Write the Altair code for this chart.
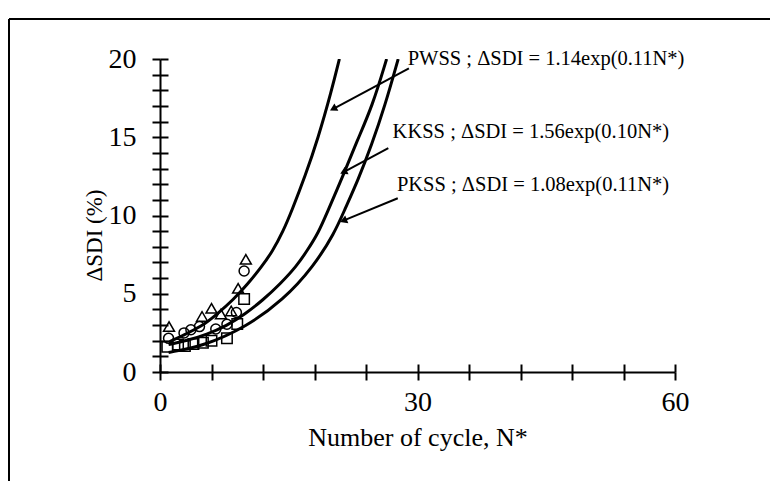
import altair as alt
import pandas as pd

# ---- curves (N*, ΔSDI %) ----
pwss_N = [1, 2.5, 4.85, 6.65, 8.5, 10.2, 11.8, 13.1, 14.35, 15.35, 16.9, 18.4, 20.0, 20.9]
pwss_y = [1.9, 2.3, 2.9, 3.7, 4.6, 5.6, 6.7, 7.7, 9.0, 10.3, 12.5, 14.9, 18.0, 20.0]
kkss_N = [1, 3.1, 5.45, 7.75, 9.9, 12.0, 13.95, 15.9, 17.2, 18.45, 19.4, 21.3, 22.9, 24.75, 26.4]
kkss_y = [1.75, 2.0, 2.4, 2.95, 3.7, 4.6, 5.6, 6.75, 7.8, 8.9, 10.1, 12.5, 14.7, 17.0, 20.0]
pkss_N = [1, 5.05, 10.1, 14.35, 17.85, 20.35, 21.5, 23.1, 24.65, 26.2, 27.75]
pkss_y = [1.25, 1.65, 2.9, 4.6, 6.7, 8.9, 10.35, 12.3, 14.5, 17.0, 20.0]

# ---- measured points ----
tri_N = [1.05, 4.9, 6.0, 7.1, 8.3, 9.1, 10.0]
tri_y = [2.9, 3.55, 4.07, 3.7, 3.9, 5.35, 7.2]
circ_N = [1.0, 2.8, 3.6, 4.6, 6.5, 7.8, 8.9, 9.8]
circ_y = [2.15, 2.5, 2.7, 2.9, 2.75, 3.05, 3.8, 6.45]
sq_N = [0.85, 2.1, 2.9, 3.9, 5.0, 6.0, 7.8, 9.0, 9.8]
sq_y = [1.62, 1.75, 1.66, 1.79, 1.87, 2.0, 2.15, 3.07, 4.66]

# ---- annotations ----
ann_text = ["PWSS ; \u0394SDI = 1.14exp(0.11N*)",
            "KKSS ; \u0394SDI = 1.56exp(0.10N*)",
            "PKSS ; \u0394SDI = 1.08exp(0.11N*)"]
ann_N = [28.85, 27.1, 27.6]
ann_y = [20.0, 15.35, 11.95]
arr_N0 = [29.0, 26.6, 27.7]
arr_y0 = [19.4, 14.3, 11.1]
arr_N1 = [20.3, 21.5, 21.5]
arr_y1 = [16.85, 12.8, 9.7]
arr_ang = [242, 243, 248]

x_ticks = [0, 6, 12, 18, 24, 30, 36, 42, 48, 54, 60]
y_ticks = list(range(0, 21))

W, H = 515, 313
FONT = "Liberation Serif"

curves = pd.DataFrame(
    [{"s": "PWSS", "N": n, "y": v} for n, v in zip(pwss_N, pwss_y)]
    + [{"s": "KKSS", "N": n, "y": v} for n, v in zip(kkss_N, kkss_y)]
    + [{"s": "PKSS", "N": n, "y": v} for n, v in zip(pkss_N, pkss_y)]
)
tri = pd.DataFrame({"N": tri_N, "y": tri_y})
circ = pd.DataFrame({"N": circ_N, "y": circ_y})
sq = pd.DataFrame({"N": sq_N, "y": sq_y})
ann = pd.DataFrame({"t": ann_text, "N": ann_N, "y": ann_y})
arr = pd.DataFrame({"N0": arr_N0, "y0": arr_y0, "N1": arr_N1, "y1": arr_y1, "a": arr_ang})

xs = alt.Scale(domain=[0, 60], nice=False, zero=False)
ys = alt.Scale(domain=[0, 20], nice=False, zero=False)

ax_common = dict(
    domainColor="black", domainWidth=2, tickColor="black", tickWidth=2, tickSize=8,
    labelFont=FONT, labelFontSize=28, labelColor="black", grid=False,
    titleFont=FONT, titleColor="black", titleFontWeight="normal",
)

x_axis_main = alt.Axis(values=x_ticks, labelExpr="datum.value % 30 == 0 ? datum.label : ''",
                       title="Number of cycle, N*", titleFontSize=26, labelPadding=8, titlePadding=8,
                       labelFlush=False, **ax_common)
y_axis_main = alt.Axis(values=y_ticks, labelExpr="datum.value % 5 == 0 ? datum.label : ''",
                       title="\u0394SDI (%)", titleFontSize=23, labelPadding=16, titleX=-66, titleY=176,
                       titleBaseline="middle", titleAngle=270, **ax_common)

x_axis_in = alt.Axis(orient="top", offset=-H, values=x_ticks, labels=False, title=None,
                     domain=False, tickColor="black", tickWidth=2, tickSize=8, grid=False)
y_axis_in = alt.Axis(orient="right", offset=-W, values=y_ticks, labels=False, title=None,
                     domain=False, tickColor="black", tickWidth=2, tickSize=8, grid=False)

lines = alt.Chart(curves).mark_line(color="black", strokeWidth=3, interpolate="basis", clip=True).encode(
    x=alt.X("N:Q", scale=xs, axis=x_axis_main),
    y=alt.Y("y:Q", scale=ys, axis=y_axis_main),
    detail="s:N",
    order="N:Q",
)

inner = alt.Chart(curves).mark_point(opacity=0).encode(
    x=alt.X("N:Q", scale=xs, axis=x_axis_in),
    y=alt.Y("y:Q", scale=ys, axis=y_axis_in),
)

def pts(df, shape, size):
    return alt.Chart(df).mark_point(shape=shape, filled=False, color="black",
                                    strokeWidth=1.5, size=size, opacity=1).encode(
        x=alt.X("N:Q", scale=xs, axis=None),
        y=alt.Y("y:Q", scale=ys, axis=None),
    )

p_tri = pts(tri, "triangle-up", 120)
p_circ = pts(circ, "circle", 100)
p_sq = pts(sq, "square", 110)

arrows = alt.Chart(arr).mark_rule(color="black", strokeWidth=2).encode(
    x=alt.X("N0:Q", scale=xs, axis=None), y=alt.Y("y0:Q", scale=ys, axis=None),
    x2="N1:Q", y2="y1:Q",
)
heads = alt.Chart(arr).mark_point(shape="triangle", filled=True, color="black", size=70, opacity=1).encode(
    x=alt.X("N1:Q", scale=xs, axis=None), y=alt.Y("y1:Q", scale=ys, axis=None),
    angle=alt.Angle("a:Q", scale=None),
)
labels = alt.Chart(ann).mark_text(align="left", baseline="middle", font=FONT, fontSize=20.5, color="black").encode(
    x=alt.X("N:Q", scale=xs, axis=None), y=alt.Y("y:Q", scale=ys, axis=None), text="t:N",
)

frame_left = alt.Chart(curves).mark_rule(color="black", strokeWidth=2).encode(
    x=alt.value(-151), y=alt.value(-40), y2=alt.value(430))
frame_top = alt.Chart(curves).mark_rule(color="black", strokeWidth=2).encode(
    x=alt.value(-151), x2=alt.value(620), y=alt.value(-40))

chart = alt.layer(lines, inner, p_tri, p_circ, p_sq, arrows, heads, labels, frame_left, frame_top).resolve_axis(
    x="independent", y="independent"
).properties(
    width=W, height=H,
    autosize=alt.AutoSizeParams(type="none"),
    padding={"left": 160, "top": 59, "right": 95, "bottom": 109},
    background="white",
).configure_view(stroke=None)

chart.save("out.html", embed_options={"renderer": "svg", "actions": False})
